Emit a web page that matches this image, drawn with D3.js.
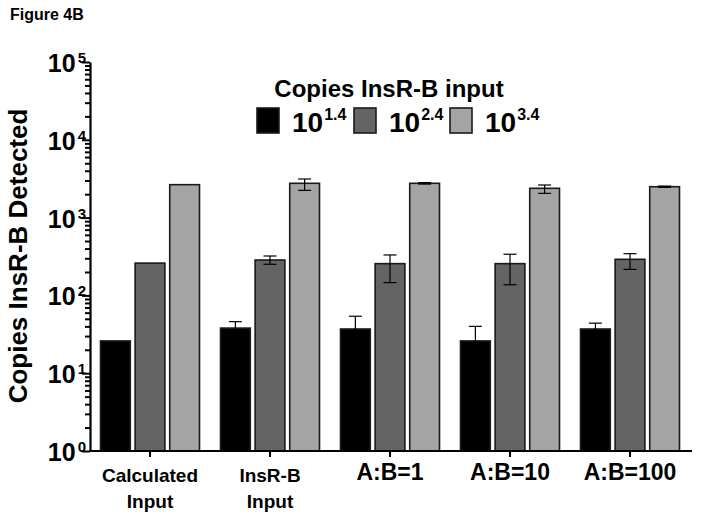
<!DOCTYPE html>
<html>
<head>
<meta charset="utf-8">
<script src="https://cdn.jsdelivr.net/npm/d3@7"></script>
<style>
  body { margin: 0; background: #fff; }
  svg { display: block; font-family: Arial, "Liberation Sans", sans-serif; font-weight: bold; }
</style>
</head>
<body>
<svg width="701" height="521"></svg>
<script>
let groups = ["Calculated Input", "InsR-B Input", "A:B=1", "A:B=10", "A:B=100"],
    groupLines = [["Calculated", "Input"], ["InsR-B", "Input"], ["A:B=1"], ["A:B=10"], ["A:B=100"]];

let seriesExp = ["1.4", "2.4", "3.4"],
    seriesColor = ["#000000", "#646464", "#a4a4a4"];

// mean copies detected, one array per input level
let copiesLow = [26, 38, 37, 26, 37],
    copiesMid = [260, 285, 256, 256, 291],
    copiesHigh = [2650, 2760, 2760, 2380, 2495];

// error bar ends (upper / lower), null = no bar
let upperLow = [null, 46, 54, 40, 44],
    lowerLow = [null, 31, 25, 17, 30],
    upperMid = [null, 321, 331, 338, 344],
    lowerMid = [null, 251, 146, 137, 216],
    upperHigh = [null, 3135, 2820, 2625, 2540],
    lowerHigh = [null, 2240, 2700, 2050, 2450];

let yMajor = [1, 10, 100, 1000, 10000, 100000],
    yExp = ["0", "1", "2", "3", "4", "5"];

let values = [copiesLow, copiesMid, copiesHigh],
    uppers = [upperLow, upperMid, upperHigh],
    lowers = [lowerLow, lowerMid, lowerHigh];

let svg = d3.select("svg");

let x0 = d3.scaleBand().domain(groups).range([90, 690]).paddingInner(0.175).paddingOuter(0.0875),
    x1 = d3.scaleBand().domain([0, 1, 2]).range([0, x0.bandwidth()]).paddingInner(0.14),
    y = d3.scaleLog().domain([1, 1e5]).range([451, 62]);

let yMinor = [];
yMajor.slice(0, -1).forEach(function(d) {
  for (let k = 2; k < 10; ++k) yMinor.push(d * k);
});

// bars
let rows = [];
groups.forEach(function(g, i) {
  values.forEach(function(v, s) {
    rows.push({group: g, s: s, value: v[i], hi: uppers[s][i], lo: lowers[s][i]});
  });
});

svg.append("g")
  .selectAll("rect")
  .data(rows)
  .enter().append("rect")
    .attr("x", function(d) { return x0(d.group) + x1(d.s); })
    .attr("y", function(d) { return y(d.value); })
    .attr("width", x1.bandwidth())
    .attr("height", function(d) { return y(1) - y(d.value); })
    .attr("fill", function(d) { return seriesColor[d.s]; })
    .attr("stroke", "#1a1a1a")
    .attr("stroke-width", 1.6);

// error bars
let err = svg.append("g")
    .attr("stroke", "#000")
    .attr("stroke-width", 1.2)
  .selectAll("g")
  .data(rows.filter(function(d) { return d.hi != null; }))
  .enter().append("g")
    .attr("transform", function(d) { return "translate(" + (x0(d.group) + x1(d.s) + x1.bandwidth() / 2) + ",0)"; });

err.append("line")
    .attr("y1", function(d) { return y(d.lo); })
    .attr("y2", function(d) { return y(d.hi); });

err.selectAll(".cap")
    .data(function(d) { return [d.lo, d.hi]; })
  .enter().append("line")
    .attr("class", "cap")
    .attr("x1", -6.5)
    .attr("x2", 6.5)
    .attr("y1", function(v) { return y(v); })
    .attr("y2", function(v) { return y(v); });

// y axis
svg.append("g")
    .attr("transform", "translate(90,0)")
    .call(d3.axisLeft(y).tickValues(yMinor).tickSize(5).tickFormat(""))
    .call(function(g) { g.select(".domain").remove(); })
    .selectAll("line").attr("stroke-width", 2);

svg.append("g")
    .attr("transform", "translate(90,0)")
    .call(d3.axisLeft(y).tickValues(yMajor).tickSize(8).tickSizeOuter(0).tickFormat(""))
    .call(function(g) {
      g.select(".domain").attr("stroke-width", 2.2);
      g.selectAll("line").attr("stroke-width", 2);
    });

let yLab = svg.append("g")
  .selectAll("text")
  .data(yMajor)
  .enter().append("text")
    .attr("x", 86)
    .attr("y", function(d) { return y(d) + 10; })
    .attr("text-anchor", "end")
    .attr("font-size", 25);

yLab.append("tspan").text("10");
yLab.append("tspan")
    .attr("dy", -9)
    .attr("dx", 2)
    .attr("font-size", 15)
    .text(function(d, i) { return yExp[i]; });

// x axis
svg.append("g")
    .attr("transform", "translate(0,451)")
    .call(d3.axisBottom(x0).tickSize(6).tickSizeOuter(0).tickFormat(""))
    .call(function(g) {
      g.select(".domain").attr("stroke-width", 2.2).attr("d", "M89,0H692");
      g.selectAll("line").attr("stroke-width", 2);
    });

svg.append("g")
  .selectAll("text")
  .data(groups)
  .enter().append("text")
    .attr("text-anchor", "middle")
    .attr("font-size", function(d, i) { return groupLines[i].length > 1 ? 19 : 23; })
    .attr("transform", function(d) { return "translate(" + (x0(d) + x0.bandwidth() / 2) + ",0)"; })
  .selectAll("tspan")
  .data(function(d, i) { return groupLines[i]; })
  .enter().append("tspan")
    .attr("x", 0)
    .attr("y", function(t, j, nodes) { return nodes.length > 1 ? 482 + j * 26 : 480; })
    .text(function(t) { return t; });

// axis title
svg.append("text")
    .attr("transform", "translate(27,256) rotate(-90)")
    .attr("text-anchor", "middle")
    .attr("font-size", 26)
    .text("Copies InsR-B Detected");

svg.append("text")
    .attr("x", 10)
    .attr("y", 20)
    .attr("font-size", 16)
    .text("Figure 4B");

// legend
let legend = svg.append("g");

legend.append("text")
    .attr("x", 389)
    .attr("y", 97)
    .attr("text-anchor", "middle")
    .attr("font-size", 24)
    .text("Copies InsR-B input");

let legX = [257, 354, 450];

let item = legend.selectAll(".item")
    .data(seriesExp)
  .enter().append("g")
    .attr("class", "item")
    .attr("transform", function(d, i) { return "translate(" + legX[i] + ",108)"; });

item.append("rect")
    .attr("width", 22)
    .attr("height", 25)
    .attr("fill", function(d, i) { return seriesColor[i]; })
    .attr("stroke", "#1a1a1a")
    .attr("stroke-width", 1.6);

let legText = item.append("text")
    .attr("x", 35)
    .attr("y", 24)
    .attr("font-size", 28);

legText.append("tspan").text("10");
legText.append("tspan")
    .attr("dy", -12)
    .attr("dx", 1)
    .attr("font-size", 16)
    .text(function(d) { return d; });
</script>
</body>
</html>
